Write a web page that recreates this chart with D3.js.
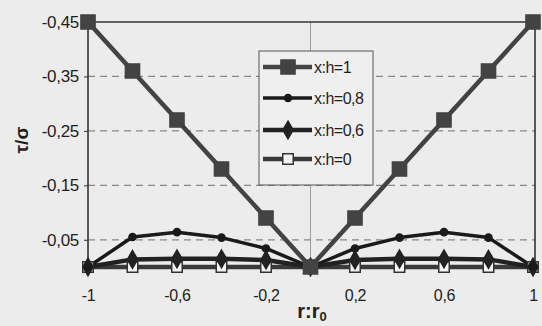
<!DOCTYPE html>
<html><head><meta charset="utf-8">
<script src="https://cdn.jsdelivr.net/npm/d3@7"></script>
<style>
html,body{margin:0;padding:0;background:#ececec;}
svg{display:block;font-family:"Liberation Sans",Arial,sans-serif;}
</style></head>
<body>
<svg id="c" width="542" height="326"></svg>
<script>
const xValues = [-1, -0.8, -0.6, -0.4, -0.2, 0, 0.2, 0.4, 0.6, 0.8, 1];
const seriesH1  = [-0.45, -0.36, -0.27, -0.18, -0.09, 0, -0.09, -0.18, -0.27, -0.36, -0.45];
const seriesH08 = [0, -0.055, -0.064, -0.054, -0.034, 0, -0.034, -0.054, -0.064, -0.054, 0];
const seriesH06 = [0, -0.014, -0.015, -0.015, -0.013, 0, -0.013, -0.015, -0.015, -0.014, 0];
const seriesH0  = [0, 0, 0, 0, 0, 0, 0, 0, 0, 0, 0];
const seriesNames = ["x:h=1", "x:h=0,8", "x:h=0,6", "x:h=0"];
const xTicks = [-1, -0.6, -0.2, 0.2, 0.6, 1];
const yTicks = [-0.45, -0.35, -0.25, -0.15, -0.05];

const svg = d3.select("#c");
const L = 88, R = 533, T = 22, B = 267;
const x = d3.scaleLinear().domain([-1, 1]).range([L, R]);
const y = d3.scaleLinear().domain([0, -0.45]).range([B, T]);
const fmt = v => String(v).replace(".", ",");

// grid
svg.append("g").selectAll("line").data(yTicks.slice(1)).join("line")
  .attr("x1", L).attr("x2", R + 2).attr("y1", d => y(d)).attr("y2", d => y(d))
  .attr("stroke", "#888").attr("stroke-width", 1.2).attr("stroke-dasharray", "7,5");
// center vertical
svg.append("line").attr("x1", x(0)).attr("x2", x(0)).attr("y1", T).attr("y2", B)
  .attr("stroke", "#888").attr("stroke-width", 0.8);
// frame
svg.append("path").attr("d", `M${L},${B}V${T}H${R + 2}V${B}`)
  .attr("fill", "none").attr("stroke", "#333").attr("stroke-width", 1.6);

// axes
const yAxis = svg.append("g").attr("transform", `translate(${L},0)`)
  .call(d3.axisLeft(y).tickValues(yTicks).tickFormat(fmt).tickSize(4).tickPadding(5));
yAxis.select(".domain").remove();
yAxis.selectAll("line").attr("stroke", "#333");
yAxis.selectAll("text").attr("font-size", 17).attr("fill", "#1e1e1e")
  .attr("font-family", "Liberation Sans, Arial, sans-serif").attr("letter-spacing", "-0.3");

const xAxis = svg.append("g").attr("transform", `translate(0,${B})`)
  .call(d3.axisBottom(x).tickValues(xTicks).tickFormat(fmt).tickSize(0).tickPadding(23));
xAxis.select(".domain").attr("stroke", "#333").attr("stroke-width", 1.5);
xAxis.selectAll("text").attr("font-size", 16).attr("fill", "#1e1e1e")
  .attr("font-family", "Liberation Sans, Arial, sans-serif").attr("letter-spacing", "-0.3");

// titles
const xt = svg.append("text").attr("x", 312).attr("y", 318).attr("text-anchor", "middle")
  .attr("font-size", 20).attr("font-weight", "bold").attr("fill", "#1e1e1e");
xt.append("tspan").text("r:r");
xt.append("tspan").attr("font-size", 13).attr("dy", 3).text("0");
svg.append("text").attr("transform", "translate(28,140) rotate(-90)").attr("text-anchor", "middle")
  .attr("font-size", 19).attr("font-weight", "bold").attr("fill", "#1e1e1e").text("τ/σ");

const line = d3.line().x((d, i) => x(xValues[i])).y(d => y(d));
const sym = (type, size) => d3.symbol().type(type).size(size)();

const series = [
  {vals: seriesH1, color: "#434343", w: 4.5, marker: sym(d3.symbolSquare, 200), fill: "#434343", stroke: "#434343"},
  {vals: seriesH08, color: "#1a1a1a", w: 3.5, marker: sym(d3.symbolCircle, 40), fill: "#1a1a1a", stroke: "#1a1a1a"},
  {vals: seriesH06, color: "#222", w: 4.5, marker: sym(d3.symbolDiamond, 90), fill: "#222", stroke: "#222"},
  {vals: seriesH0, color: "#3a3a3a", w: 4.5, marker: sym(d3.symbolSquare, 110), fill: "#f4f4f4", stroke: "#333"}
];

series.slice().reverse().forEach(s => {
  svg.append("path").datum(s.vals).attr("d", line).attr("fill", "none")
    .attr("stroke", s.color).attr("stroke-width", s.w).attr("stroke-linejoin", "round");
});
series.slice().reverse().forEach(s => {
  svg.append("g").selectAll("path").data(s.vals).join("path")
    .attr("d", s.marker)
    .attr("transform", (d, i) => `translate(${x(xValues[i])},${y(d)})`)
    .attr("fill", s.fill).attr("stroke", s.stroke).attr("stroke-width", 1.5);
});

// legend
const lg = svg.append("g");
lg.append("rect").attr("x", 259).attr("y", 51).attr("width", 114).attr("height", 134)
  .attr("fill", "#efefef").attr("stroke", "#555").attr("stroke-width", 1);
const ly = [67, 98, 130, 159];
series.forEach((s, i) => {
  lg.append("line").attr("x1", 263).attr("x2", 312).attr("y1", ly[i]).attr("y2", ly[i])
    .attr("stroke", s.color).attr("stroke-width", s.w);
  lg.append("path").attr("d", s.marker).attr("transform", `translate(288,${ly[i]})`)
    .attr("fill", s.fill).attr("stroke", s.stroke).attr("stroke-width", 1.5);
  lg.append("text").attr("x", 314).attr("y", ly[i] + 6).attr("font-size", 16)
    .attr("fill", "#1e1e1e").attr("letter-spacing", "-0.5").text(seriesNames[i]);
});
</script>
</body></html>
